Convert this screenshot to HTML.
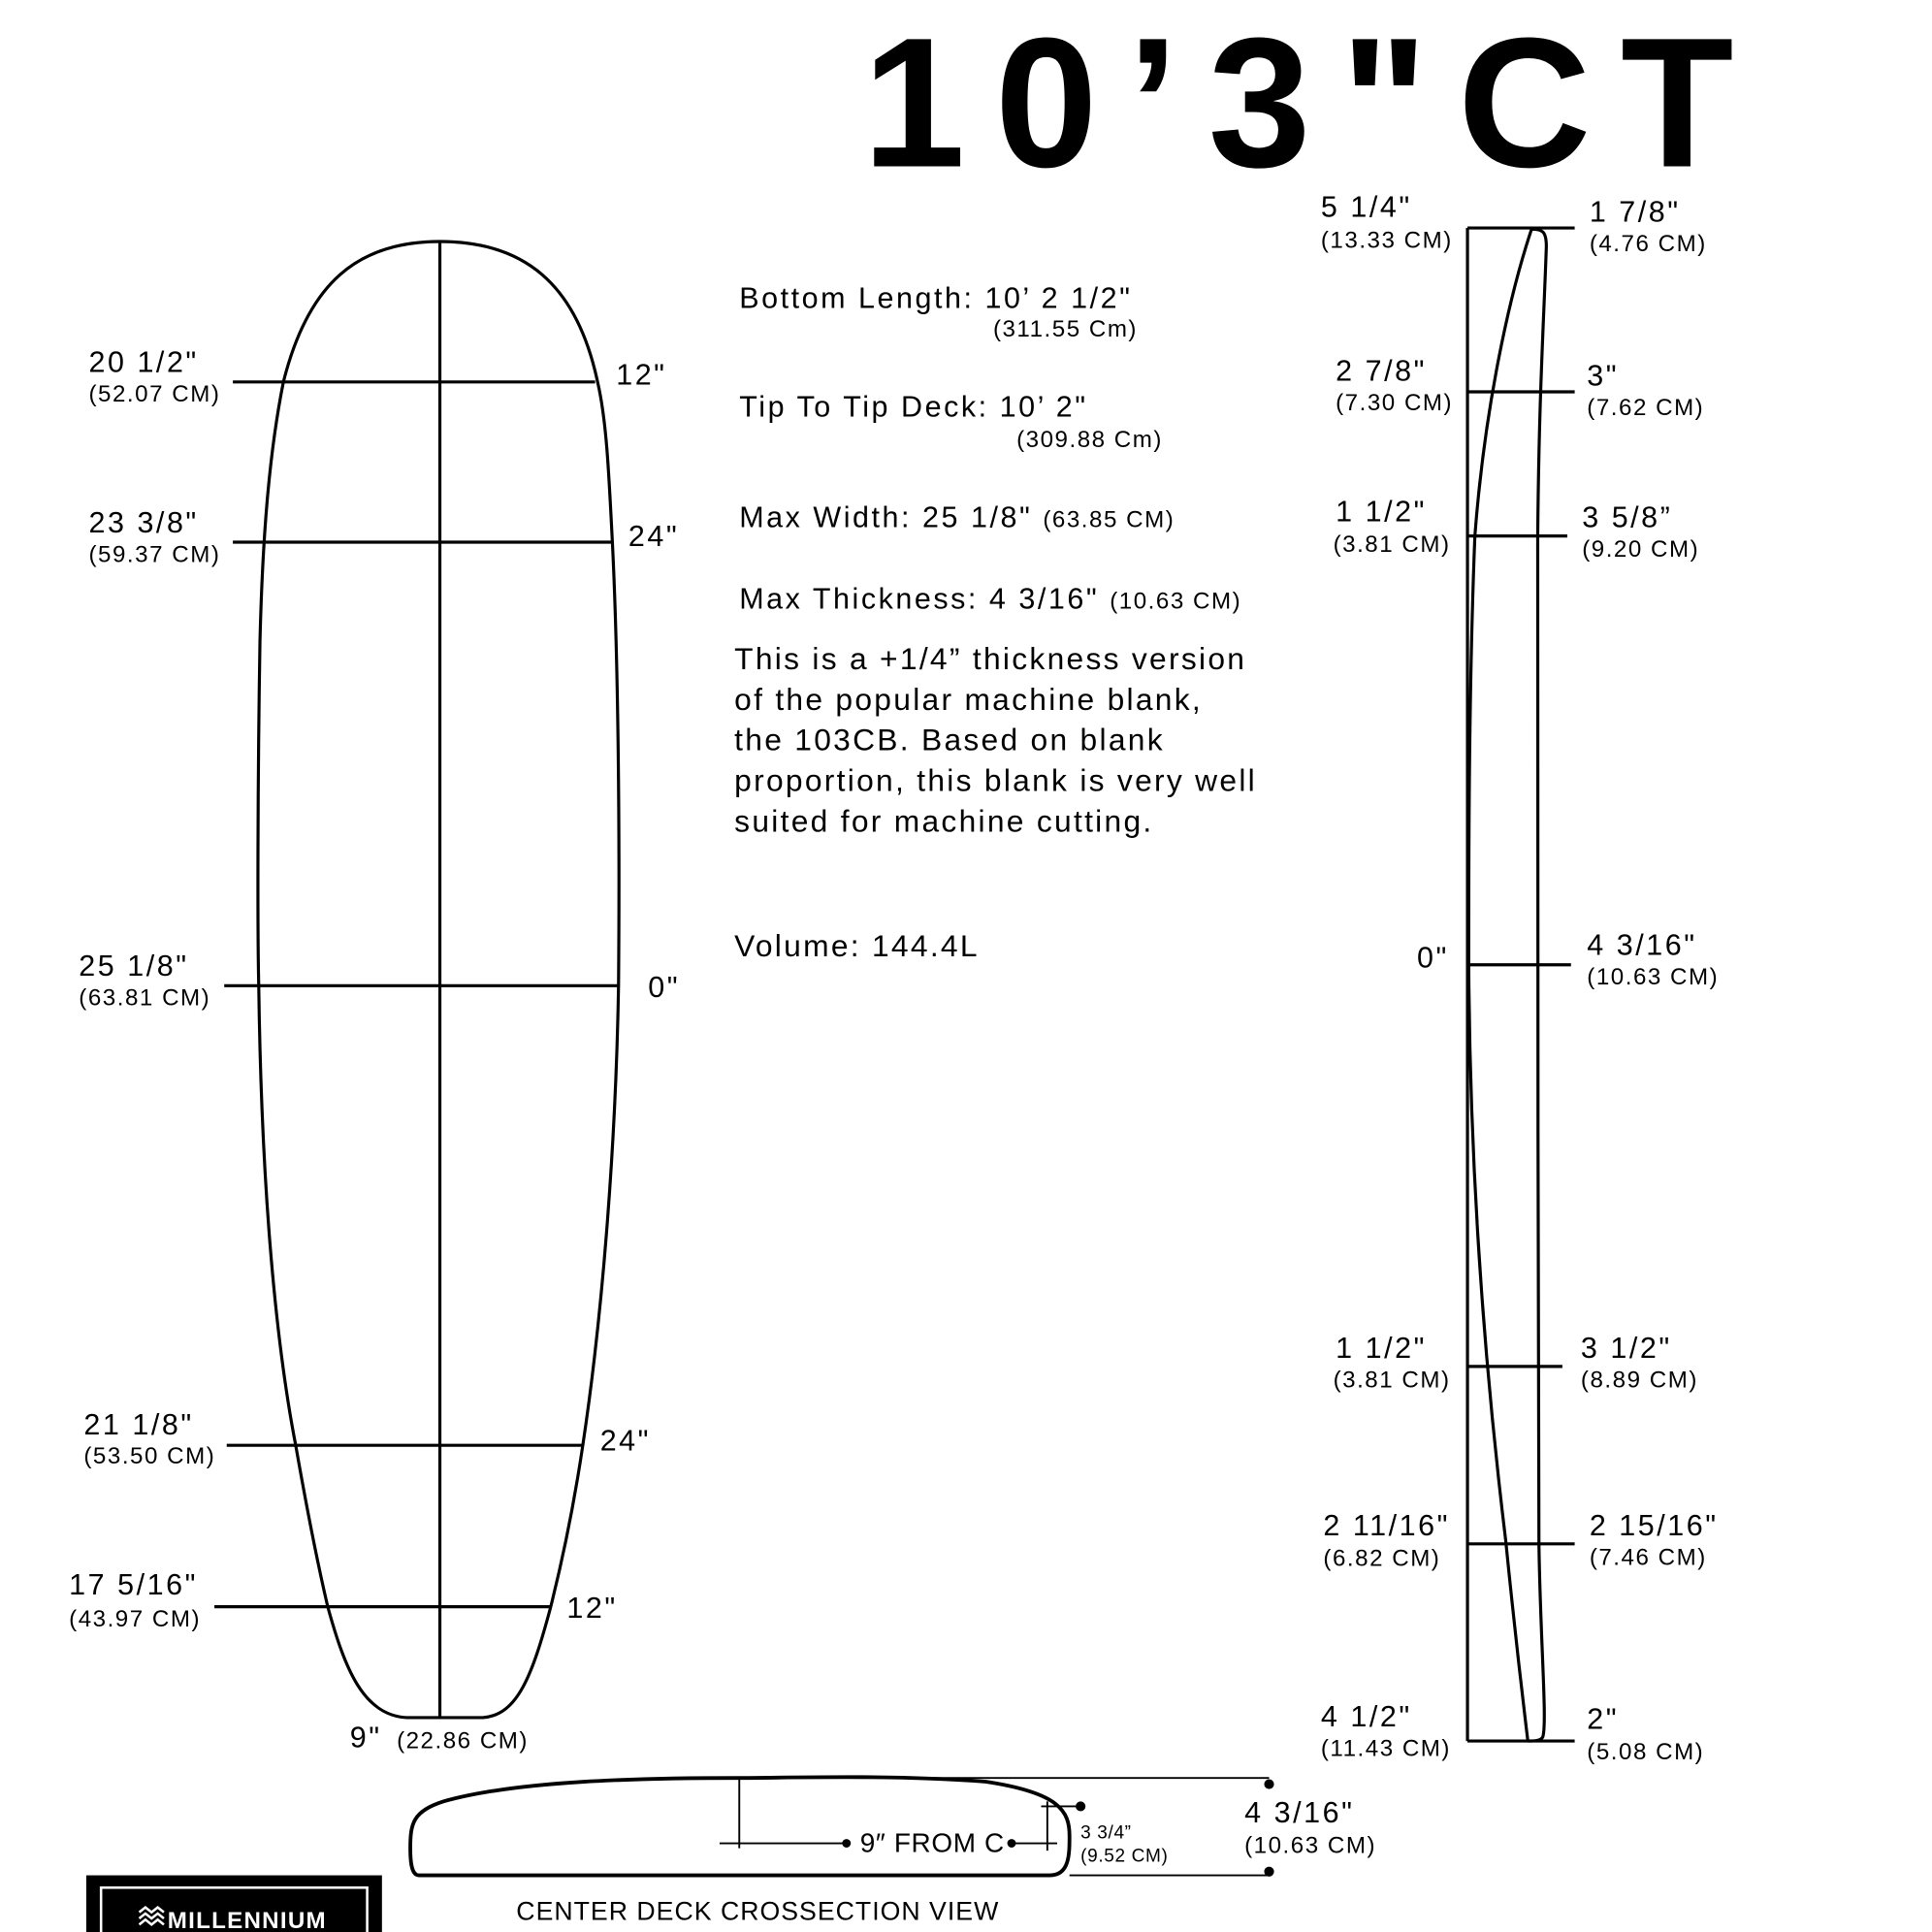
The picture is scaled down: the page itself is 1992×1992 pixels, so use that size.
<!DOCTYPE html>
<html><head><meta charset="utf-8"><style>
html,body{margin:0;padding:0;background:#fff}
svg{display:block}
text{font-family:"Liberation Sans",Arial,sans-serif;fill:#000;letter-spacing:2px}
text[font-size="19"],tspan[font-size="19"]{letter-spacing:1.2px}
text[font-size="25"]{letter-spacing:1.8px}
</style></head><body>
<svg width="1992" height="1992" viewBox="0 0 1568 1568" xmlns="http://www.w3.org/2000/svg">
<text x="700" y="135" font-size="150" font-weight="bold" style="letter-spacing:24px">10’3"CT</text>

<!-- Board outline -->
<g fill="none" stroke="#000" stroke-width="2.5">
<path d="M357,196 C290,196 250,230 230,310 C218,370 213,440 211,520 C209,640 209,760 210,800 C212,950 222,1080 240,1173 C250,1230 258,1270 266,1304 C280,1355 295,1392 330,1394 L392,1394 C420,1392 432,1360 447,1304 C458,1260 466,1220 473,1173 C490,1060 500,920 502,800 C503,680 502,540 497,440 C494,380 492,340 485,310 C468,230 425,196 357,196 Z"/>
<line x1="357" y1="196" x2="357" y2="1394"/>
<line x1="189" y1="310" x2="483" y2="310"/>
<line x1="189" y1="440" x2="497" y2="440"/>
<line x1="182" y1="800" x2="502" y2="800"/>
<line x1="184" y1="1173" x2="473" y2="1173"/>
<line x1="174" y1="1304" x2="447" y2="1304"/>
</g>
<g font-size="24">
<text x="72" y="302">20 1/2"</text><text x="72" y="326" font-size="19">(52.07 CM)</text>
<text x="500" y="312">12"</text>
<text x="72" y="432">23 3/8"</text><text x="72" y="456" font-size="19">(59.37 CM)</text>
<text x="510" y="443">24"</text>
<text x="64" y="792">25 1/8"</text><text x="64" y="816" font-size="19">(63.81 CM)</text>
<text x="526" y="809">0"</text>
<text x="68" y="1164">21 1/8"</text><text x="68" y="1188" font-size="19">(53.50 CM)</text>
<text x="487" y="1177">24"</text>
<text x="56" y="1294">17 5/16"</text><text x="56" y="1320" font-size="19">(43.97 CM)</text>
<text x="460" y="1313">12"</text>
<text x="284" y="1418">9"</text><text x="322" y="1419" font-size="19">(22.86 CM)</text>
</g>

<!-- Specs -->
<g font-size="24">
<text x="600" y="250">Bottom Length: 10’ 2 1/2"</text>
<text x="806" y="273" font-size="19">(311.55 Cm)</text>
<text x="600" y="338">Tip To Tip Deck: 10’ 2"</text>
<text x="825" y="363" font-size="19">(309.88 Cm)</text>
<text x="600" y="428">Max Width: 25 1/8" <tspan font-size="19">(63.85 CM)</tspan></text>
<text x="600" y="494">Max Thickness: 4 3/16" <tspan font-size="19">(10.63 CM)</tspan></text>
<text x="596" y="543" font-size="25">This is a +1/4” thickness version</text>
<text x="596" y="576" font-size="25">of the popular machine blank,</text>
<text x="596" y="609" font-size="25">the 103CB. Based on blank</text>
<text x="596" y="642" font-size="25">proportion, this blank is very well</text>
<text x="596" y="675" font-size="25">suited for machine cutting.</text>
<text x="596" y="776" font-size="25">Volume: 144.4L</text>
</g>

<!-- Rocker -->
<g fill="none" stroke="#000" stroke-width="2.5">
<line x1="1191" y1="185" x2="1191" y2="1413"/>
<line x1="1191" y1="185" x2="1278" y2="185"/>
<line x1="1191" y1="1413" x2="1278" y2="1413"/>
<path d="M1243,186 C1225,240 1205,330 1197,435 C1192,560 1192,700 1192,783 C1193,950 1205,1110 1222,1250 C1230,1330 1236,1380 1240,1413"/>
<path d="M1243,186 C1252,186 1255,188 1255,200 C1253,260 1249,320 1248,435 C1248,600 1248,1000 1249,1253 C1250,1330 1256,1400 1252,1410 C1250,1413 1245,1413 1240,1413"/>
<line x1="1191" y1="318" x2="1278" y2="318"/>
<line x1="1191" y1="435" x2="1272" y2="435"/>
<line x1="1191" y1="783" x2="1275" y2="783"/>
<line x1="1191" y1="1109" x2="1268" y2="1109"/>
<line x1="1191" y1="1253" x2="1278" y2="1253"/>
</g>
<g font-size="24">
<text x="1072" y="176">5 1/4"</text><text x="1072" y="201" font-size="19">(13.33 CM)</text>
<text x="1290" y="180">1 7/8"</text><text x="1290" y="204" font-size="19">(4.76 CM)</text>
<text x="1084" y="309">2 7/8"</text><text x="1084" y="333" font-size="19">(7.30 CM)</text>
<text x="1288" y="313">3"</text><text x="1288" y="337" font-size="19">(7.62 CM)</text>
<text x="1084" y="423">1 1/2"</text><text x="1082" y="448" font-size="19">(3.81 CM)</text>
<text x="1284" y="428">3 5/8”</text><text x="1284" y="452" font-size="19">(9.20 CM)</text>
<text x="1150" y="785">0"</text>
<text x="1288" y="775">4 3/16"</text><text x="1288" y="799" font-size="19">(10.63 CM)</text>
<text x="1084" y="1102">1 1/2"</text><text x="1082" y="1126" font-size="19">(3.81 CM)</text>
<text x="1283" y="1102">3 1/2"</text><text x="1283" y="1126" font-size="19">(8.89 CM)</text>
<text x="1074" y="1246">2 11/16"</text><text x="1074" y="1271" font-size="19">(6.82 CM)</text>
<text x="1290" y="1246">2 15/16"</text><text x="1290" y="1270" font-size="19">(7.46 CM)</text>
<text x="1072" y="1401">4 1/2"</text><text x="1072" y="1425" font-size="19">(11.43 CM)</text>
<text x="1288" y="1403">2"</text><text x="1288" y="1428" font-size="19">(5.08 CM)</text>
</g>

<!-- Crossection -->
<g fill="none" stroke="#000">
<path stroke-width="3" d="M340,1522 L852,1522 C868,1522 868,1505 868,1490 C868,1470 860,1455 800,1446 C720,1440 640,1443 600,1443 C520,1443 420,1445 360,1462 C335,1470 333,1480 333,1500 C333,1515 335,1522 340,1522 Z"/>
<line x1="600" y1="1443" x2="1030" y2="1443" stroke-width="1.5"/>
<line x1="868" y1="1522" x2="1030" y2="1522" stroke-width="1.5"/>
<line x1="600" y1="1443" x2="600" y2="1500" stroke-width="1.5"/>
<line x1="584" y1="1496" x2="686" y2="1496" stroke-width="1.5"/>
<line x1="820" y1="1496" x2="858" y2="1496" stroke-width="1.5"/>
<line x1="850" y1="1462" x2="850" y2="1502" stroke-width="1.5"/>
<line x1="845" y1="1466" x2="876" y2="1466" stroke-width="1.5"/>
</g>
<g fill="#000">
<circle cx="1030" cy="1448" r="4"/><circle cx="1030" cy="1519" r="4"/>
<circle cx="877" cy="1466" r="4"/><circle cx="687" cy="1496" r="3.5"/><circle cx="821" cy="1496" r="3.5"/>
</g>
<text x="698" y="1503" font-size="22" style="letter-spacing:0.5px">9″ FROM C</text>
<text x="877" y="1492" font-size="15" style="letter-spacing:0.5px">3 3/4”</text>
<text x="877" y="1511" font-size="15" style="letter-spacing:0.5px">(9.52 CM)</text>
<text x="1010" y="1479" font-size="24">4 3/16"</text>
<text x="1010" y="1504" font-size="19">(10.63 CM)</text>
<text x="419" y="1558" font-size="21" style="letter-spacing:0.8px">CENTER DECK CROSSECTION VIEW</text>

<!-- Logo -->
<rect x="70" y="1522" width="240" height="50" fill="#000"/>
<rect x="82" y="1532" width="216" height="40" fill="none" stroke="#fff" stroke-width="2"/>
<text x="136" y="1565" font-size="19" font-weight="bold" style="fill:#fff;letter-spacing:1px">MILLENNIUM</text>
<path d="M113,1552 l5,-4 l5,4 l5,-4 l5,4 M113,1557 l5,-4 l5,4 l5,-4 l5,4 M113,1562 l5,-4 l5,4 l5,-4 l5,4" stroke="#fff" stroke-width="2" fill="none"/>
</svg>
</body></html>
